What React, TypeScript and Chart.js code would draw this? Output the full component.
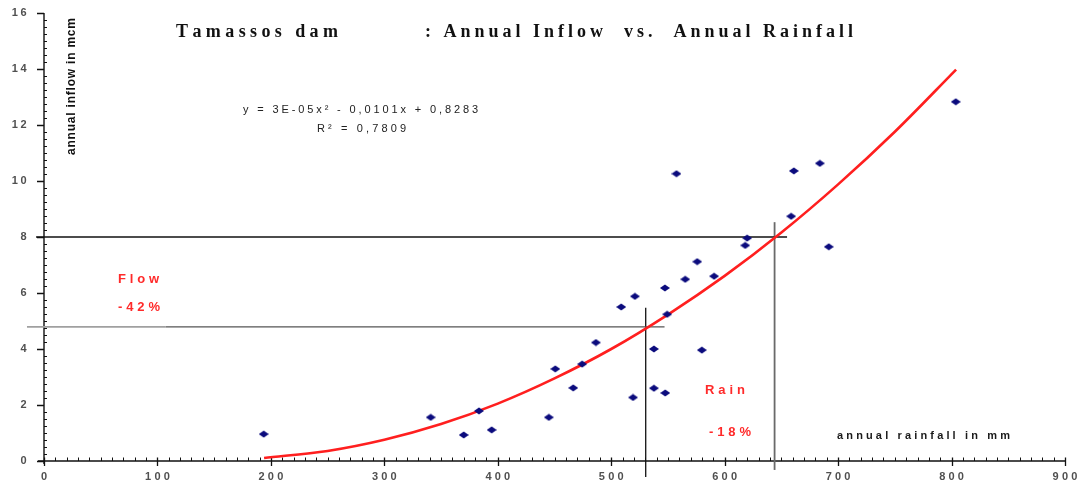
import React, { useEffect, useRef } from "react";
import { Chart, registerables } from "chart.js";

Chart.register(...registerables);

// ---- data ----
const rainfall = [193.7, 340.9, 370.0, 383.4, 394.6, 445.0, 450.7, 466.5, 474.4, 486.5, 508.8, 520.9, 519.2, 537.6, 537.6, 547.6, 547.3, 549.3, 565.2, 575.8, 579.9, 590.7, 618.1, 619.8, 557.5, 661.0, 683.9, 658.6, 691.8, 803.7];
const inflow = [0.96, 1.56, 0.93, 1.79, 1.11, 1.56, 3.29, 2.61, 3.46, 4.23, 5.5, 5.88, 2.27, 4.0, 2.6, 2.43, 6.18, 5.24, 6.49, 7.12, 3.96, 6.6, 7.7, 7.96, 10.26, 10.36, 10.63, 8.74, 7.65, 12.83];

const trendX = [194, 250, 300, 350, 400, 450, 500, 550, 600, 650, 700, 750, 804];
const trendY = [0.11, 0.36, 0.76, 1.32, 2.05, 2.95, 4.0, 5.23, 6.61, 8.16, 9.88, 11.76, 13.98];

// reference (guide) lines: [x1, y1, x2, y2]
const guideFlow8 = [-7, 8, 655, 8];
const guideFlowLeft = [-15, 4.79, 107, 4.79];
const guideFlowRight = [107, 4.79, 547, 4.79];
const guideRain530 = [530.4, -0.57, 530.4, 5.47];
const guideRain644 = [644, -0.32, 644, 8.53];

const xTicks = [0, 100, 200, 300, 400, 500, 600, 700, 800, 900];
const yTicks = [0, 2, 4, 6, 8, 10, 12, 14, 16];

const titleLeft = "Tamassos dam";
const titleRight = ": Annual Inflow  vs.  Annual Rainfall";
const yTitle = "annual inflow in mcm";
const xTitle = "annual rainfall in mm";
const eqLine1 = "y = 3E-05x\u00B2 - 0,0101x + 0,8283";
const eqLine2 = "R\u00B2 = 0,7809";
const flowLabel = ["Flow", "-42%"];
const rainLabel = ["Rain", "-18%"];

function seg(s: number[]) {
  return [
    { x: s[0], y: s[1] },
    { x: s[2], y: s[3] },
  ];
}

function makeDiamond() {
  const c = document.createElement("canvas");
  c.width = 10;
  c.height = 8;
  const g = c.getContext("2d")!;
  g.fillStyle = "#0b0b7d";
  g.beginPath();
  g.moveTo(0, 4);
  g.lineTo(5, 0.4);
  g.lineTo(10, 4);
  g.lineTo(5, 7.6);
  g.closePath();
  g.fill();
  return c;
}

function fitText(ctx: CanvasRenderingContext2D, text: string, x: number, y: number, width: number) {
  const chars = [...text];
  const ws = chars.map((c) => ctx.measureText(c).width);
  const total = ws.reduce((a, b) => a + b, 0);
  const gap = chars.length > 1 ? (width - total) / (chars.length - 1) : 0;
  let cx = x;
  ctx.textAlign = "left";
  chars.forEach((c, i) => {
    ctx.fillText(c, cx, y);
    cx += ws[i] + gap;
  });
}

function gapText(ctx: CanvasRenderingContext2D, text: string, x: number, y: number, gap: number, align: "center" | "right") {
  const chars = [...text];
  const ws = chars.map((c) => ctx.measureText(c).width);
  const w = ws.reduce((a, b) => a + b, 0) + gap * (chars.length - 1);
  let cx = align === "center" ? x - w / 2 : x - w;
  ctx.textAlign = "left";
  chars.forEach((c, i) => {
    ctx.fillText(c, cx, y);
    cx += ws[i] + gap;
  });
}

const decor = {
  id: "decor",
  beforeDatasetsDraw(chart: any) {
    const ctx: CanvasRenderingContext2D = chart.ctx;
    const xs = chart.scales.x;
    const ys = chart.scales.y;
    const x0 = xs.getPixelForValue(0);
    const x1 = xs.getPixelForValue(900);
    const y0 = ys.getPixelForValue(0);
    const y1 = ys.getPixelForValue(16);
    ctx.save();
    ctx.strokeStyle = "#111";
    ctx.lineWidth = 1.4;
    // axes
    ctx.beginPath();
    ctx.moveTo(x0 - 6, y0);
    ctx.lineTo(x1, y0);
    ctx.moveTo(x0, y1);
    ctx.lineTo(x0, y0 + 3);
    ctx.stroke();
    // minor ticks
    ctx.lineWidth = 1;
    ctx.beginPath();
    for (let v = 10; v < 900; v += 10) {
      if (v % 100 === 0) continue;
      const px = Math.round(xs.getPixelForValue(v)) + 0.5;
      ctx.moveTo(px, y0);
      ctx.lineTo(px, y0 - 3.5);
    }
    for (let v = 0.25; v < 16; v += 0.25) {
      if (Math.abs(v / 2 - Math.round(v / 2)) < 1e-6) continue;
      const py = Math.round(ys.getPixelForValue(v)) + 0.5;
      ctx.moveTo(x0, py);
      ctx.lineTo(x0 + 3, py);
    }
    ctx.stroke();
    // major ticks
    ctx.lineWidth = 1.3;
    ctx.beginPath();
    xTicks.forEach((v) => {
      const px = Math.round(xs.getPixelForValue(v)) + 0.5;
      ctx.moveTo(px, y0 - 3.5);
      ctx.lineTo(px, y0 + 5);
    });
    yTicks.forEach((v) => {
      const py = Math.round(ys.getPixelForValue(v)) + 0.5;
      ctx.moveTo(x0 - 7, py);
      ctx.lineTo(x0, py);
    });
    ctx.stroke();

    // tick labels
    ctx.fillStyle = "#505050";
    ctx.font = "bold 11px 'Liberation Sans', Arial, sans-serif";
    ctx.textBaseline = "middle";
    xTicks.forEach((v) => {
      gapText(ctx, String(v), xs.getPixelForValue(v), y0 + 16, 3.2, "center");
    });
    yTicks.forEach((v) => {
      gapText(ctx, String(v), 26.5, ys.getPixelForValue(v), 2.4, "right");
    });

    // title
    ctx.textBaseline = "alphabetic";
    ctx.fillStyle = "#111";
    ctx.font = "bold 18px 'Liberation Serif', 'Times New Roman', serif";
    fitText(ctx, titleLeft, 176, 37, 162);
    fitText(ctx, titleRight, 425, 37, 428);

    // axis titles
    ctx.font = "bold 12px 'Liberation Sans', Arial, sans-serif";
    ctx.fillStyle = "#111";
    ctx.save();
    ctx.translate(74.5, 155);
    ctx.rotate(-Math.PI / 2);
    fitText(ctx, yTitle, 0, 0, 137);
    ctx.restore();
    ctx.font = "bold 11px 'Liberation Sans', Arial, sans-serif";
    ctx.fillStyle = "#1a1a1a";
    fitText(ctx, xTitle, 837, 439, 173);

    // equation
    ctx.font = "11px 'Liberation Sans', Arial, sans-serif";
    ctx.fillStyle = "#222";
    fitText(ctx, eqLine1, 243, 113, 235);
    fitText(ctx, eqLine2, 317, 132, 89);

    // annotations
    ctx.fillStyle = "#ff2a2a";
    ctx.font = "bold 13px 'Liberation Sans', Arial, sans-serif";
    fitText(ctx, flowLabel[0], 118, 283, 41);
    fitText(ctx, flowLabel[1], 118, 311, 42);
    fitText(ctx, rainLabel[0], 705, 394, 40);
    fitText(ctx, rainLabel[1], 709, 436, 42);
    ctx.restore();
  },
};

export default function App() {
  const ref = useRef<HTMLCanvasElement | null>(null);
  useEffect(() => {
    document.body.style.margin = "0";
    const canvas = ref.current!;
    const diamond = makeDiamond();
    const lineDs = (s: number[], color: string, width: number) => ({
      type: "line" as const,
      data: seg(s),
      borderColor: color,
      borderWidth: width,
      pointRadius: 0,
      showLine: true,
      fill: false,
      clip: false as any,
      order: 3,
    });
    const chart = new Chart(canvas, {
      type: "scatter",
      data: {
        datasets: [
          lineDs(guideFlowLeft, "#a0a0a0", 1.6),
          lineDs(guideFlowRight, "#555555", 1.4),
          lineDs(guideFlow8, "#111111", 1.3),
          lineDs(guideRain530, "#111111", 1.3),
          lineDs(guideRain644, "#6a6a6a", 1.8),
          {
            type: "line" as const,
            data: trendX.map((x, i) => ({ x, y: trendY[i] })),
            borderColor: "#ff1f1f",
            borderWidth: 2.6,
            pointRadius: 0,
            cubicInterpolationMode: "monotone",
            fill: false,
            order: 2,
          } as any,
          {
            type: "scatter" as const,
            data: rainfall.map((x, i) => ({ x, y: inflow[i] })),
            pointStyle: diamond as any,
            pointRadius: 4,
            backgroundColor: "#0b0b7d",
            borderColor: "#0b0b7d",
            order: 1,
          },
        ],
      },
      options: {
        responsive: false,
        animation: false,
        events: [],
        layout: { padding: { left: 44, right: 15, top: 13, bottom: 26 } },
        plugins: { legend: { display: false }, tooltip: { enabled: false }, title: { display: false } },
        scales: {
          x: { type: "linear", min: 0, max: 900, display: false },
          y: { type: "linear", min: 0, max: 16, display: false },
        },
      },
      plugins: [decor],
    });
    return () => chart.destroy();
  }, []);
  return (
    <div style={{ position: "absolute", left: 0, top: 0, width: 1080, height: 487, background: "#fff" }}>
      <canvas ref={ref} width={1080} height={487} style={{ display: "block" }} />
    </div>
  );
}
